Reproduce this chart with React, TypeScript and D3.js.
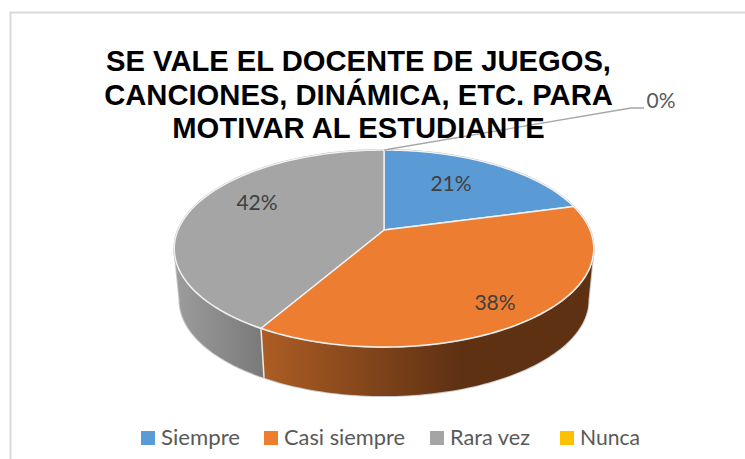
import React from "react";
import * as d3 from "d3";

const categories = ["Siempre", "Casi siempre", "Rara vez", "Nunca"];
const counts = [5, 9, 10, 0];
const colors = ["#5b9bd5", "#ed7d31", "#a5a5a5", "#ffc000"];
const titleLines = [
  "SE VALE EL DOCENTE DE JUEGOS,",
  "CANCIONES, DINÁMICA, ETC. PARA",
  "MOTIVAR AL ESTUDIANTE",
];

// layout
const W = 745, H = 459;
const CX = 384, CY = 230, K = 0.188, A = 95, B = 206;
const LOWER_CY = 282, LOWER_S = 0.975;
const TANGENT = Math.acos(-K);
const labelAt = [[451, 184], [495, 303], [257, 203], [661, 101]];
const legendSwatchX = [141, 264, 430, 560];
const legendTextW = [79, 121, 80, 60];
const FONT = "Lato, 'Open Sans', sans-serif";

const project = (a: number, r = 1, cy = CY, s = 1): [number, number] => {
  const u = Math.sin(a) * r, v = -Math.cos(a) * r;
  const d = 1 - K * v;
  return [CX + (s * B * u) / d, cy + (s * A * v) / d];
};

const sample = (a0: number, a1: number, cy = CY, s = 1) =>
  d3.range(0, 81).map((i) => project(a0 + ((a1 - a0) * i) / 80, 1, cy, s));

const line = d3.line();
const pieGen = d3.pie<number>().sort(null).startAngle(0).endAngle(2 * Math.PI);
const arcs = pieGen(counts);
const total = d3.sum(counts);
const pct = d3.format(".0%");

const wall = (a0: number, a1: number) =>
  line([...sample(a0, a1), ...sample(a1, a0, LOWER_CY, LOWER_S)])! + "Z";

const slicePath = (a0: number, a1: number) =>
  line([[CX, CY], ...sample(a0, a1)])! + "Z";

export default function App() {
  const visible = arcs.filter((d) => d.endAngle > d.startAngle);
  const orange = arcs[1];
  const sil = line(sample(0, 2 * Math.PI))! + "Z";
  const leadStart = project(arcs[3].startAngle);
  return (
    <svg
      width={W}
      height={H}
      style={{ position: "absolute", left: 0, top: 0, background: "#fff" }}
    >
      <defs>
        <linearGradient id="wallOrange" gradientUnits="userSpaceOnUse" x1="262" x2="460" y1="0" y2="0">
          <stop offset="0" stopColor="#ad5d24" />
          <stop offset="1" stopColor="#5e3113" />
        </linearGradient>
        <linearGradient id="wallGray" gradientUnits="userSpaceOnUse" x1="176" x2="264" y1="0" y2="0">
          <stop offset="0" stopColor="#9c9c9c" />
          <stop offset="1" stopColor="#797979" />
        </linearGradient>
      </defs>

      {/* frame */}
      <path d={`M10.5 ${H}V12.5H${W}`} fill="none" stroke="#d9d9d9" strokeWidth={2} />

      {/* side walls */}
      <path d={wall(TANGENT, 2 * Math.PI - TANGENT)} fill="none" stroke="#c8c8c8" strokeWidth={2} />
      <path d={wall(TANGENT, orange.endAngle)} fill="url(#wallOrange)" />
      <path d={wall(orange.endAngle, 2 * Math.PI - TANGENT)} fill="url(#wallGray)" />
      <path
        d={line([project(orange.endAngle), project(orange.endAngle, 1, LOWER_CY, LOWER_S)])!}
        stroke="#ececec"
        strokeWidth={1.5}
      />

      {/* top face */}
      <path d={sil} fill="#fff" stroke="#bdbdbd" strokeWidth={2} />
      {visible.map((d) => (
        <path
          key={d.index}
          d={slicePath(d.startAngle, d.endAngle)}
          fill={colors[d.index]}
          stroke="#f2f2f2"
          strokeWidth={1.4}
          strokeLinejoin="round"
        />
      ))}

      {/* leader for the zero slice */}
      <path
        d={line([leadStart, [390, 149], [631, 108], [644, 108]])!}
        fill="none"
        stroke="#a6a6a6"
        strokeWidth={1.3}
      />

      {/* title */}
      <g
        fontFamily="'Liberation Sans', Arial, sans-serif"
        fontWeight={700}
        fontSize={29.2}
        fill="#000"
        textAnchor="middle"
      >
        {titleLines.map((t, i) => (
          <text key={t} x={358.5} y={71 + i * 33.5}>{t}</text>
        ))}
      </g>

      {/* data labels */}
      {arcs.map((d) => (
        <text
          key={d.index}
          x={labelAt[d.index][0]}
          y={labelAt[d.index][1]}
          dy="0.35em"
          textAnchor="middle"
          fontFamily={FONT}
          fontSize={21}
          fill={d.index === 3 ? "#595959" : "#404040"}
        >
          {pct(d.value / total)}
        </text>
      ))}

      {/* legend */}
      {categories.map((c, i) => (
        <g key={c}>
          <rect x={legendSwatchX[i]} y={431} width={14} height={14} fill={colors[i]} />
          <text
            x={legendSwatchX[i] + 20}
            y={445}
            fontFamily={FONT}
            fontSize={21}
            fill="#595959"
            textLength={legendTextW[i]}
            lengthAdjust="spacingAndGlyphs"
          >
            {c}
          </text>
        </g>
      ))}
    </svg>
  );
}
